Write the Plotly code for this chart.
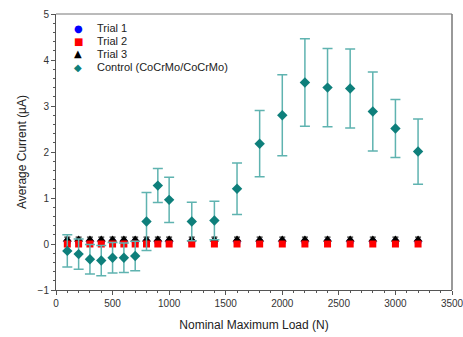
import plotly.graph_objects as go

loads = [100, 200, 300, 400, 500, 600, 700, 800, 900, 1000,
         1200, 1400, 1600, 1800, 2000, 2200, 2400, 2600, 2800, 3000, 3200]

trial1 = [0.05] * 21
trial2 = [0.0] * 21
trial3 = [0.1] * 21
trial3_err = [0.05] * 21

control = [-0.15, -0.22, -0.33, -0.36, -0.30, -0.30, -0.26, 0.49, 1.27, 0.96,
           0.49, 0.51, 1.20, 2.18, 2.80, 3.51, 3.40, 3.38, 2.88, 2.51, 2.01]
control_err = [0.35, 0.33, 0.32, 0.33, 0.33, 0.32, 0.32, 0.63, 0.37, 0.49,
               0.42, 0.42, 0.56, 0.72, 0.88, 0.95, 0.85, 0.86, 0.86, 0.63, 0.71]

series_names = ["Trial 1", "Trial 2", "Trial 3", "Control (CoCrMo/CoCrMo)"]
series_colors = ["#0000ff", "#ff0000", "#000000", "#0e7f7b"]
legend_glyphs = ["●", "■", "▲", "◆"]

fig = go.Figure()
fig.add_trace(go.Scatter(x=loads, y=trial1, mode="markers", name=series_names[0],
                         marker=dict(symbol="circle", color=series_colors[0], size=7)))
fig.add_trace(go.Scatter(x=loads, y=trial3, mode="markers", name=series_names[2],
                         marker=dict(symbol="triangle-up", color=series_colors[2], size=8),
                         error_y=dict(type="data", array=trial3_err, color="#000000",
                                      thickness=1, width=3)))
fig.add_trace(go.Scatter(x=loads, y=trial2, mode="markers", name=series_names[1],
                         marker=dict(symbol="square", color=series_colors[1], size=7)))
fig.add_trace(go.Scatter(x=loads, y=control, mode="markers", name=series_names[3],
                         marker=dict(symbol="diamond", color=series_colors[3], size=8),
                         error_y=dict(type="data", array=control_err, color="#5fb3b0",
                                      thickness=1.5, width=5)))

axis_common = dict(showline=True, linecolor="#555555", linewidth=1, mirror=False,
                   ticks="outside", ticklen=4, tickcolor="#555555",
                   showgrid=False, zeroline=False, ticklabeloverflow="allow",
                   automargin=False,
                   tickfont=dict(family="Liberation Sans, Arial", size=10, color="#333333"))

L, R, T, B = 56, 11, 14, 47
W, H = 463, 337
pw, ph = W - L - R, H - T - B

fig.update_layout(
    width=W, height=H,
    margin=dict(l=L, r=R, t=T, b=B),
    plot_bgcolor="white", paper_bgcolor="white",
    font=dict(family="Liberation Sans, Arial", color="#222222"),
    showlegend=False,
    xaxis=dict(range=[0, 3500], tickvals=[0, 500, 1000, 1500, 2000, 2500, 3000, 3500],
               title=dict(text="Nominal Maximum Load (N)", font=dict(size=12), standoff=12),
               minor=dict(dtick=100, ticks="outside", ticklen=2, tickcolor="#555555"),
               **axis_common),
    yaxis=dict(range=[-1, 5], tickvals=[-1, 0, 1, 2, 3, 4, 5],
               title=dict(text="Average Current (µA)", font=dict(size=12), standoff=8),
               minor=dict(dtick=0.2, ticks="outside", ticklen=2, tickcolor="#555555"),
               **axis_common),
)

# manual compact legend (rows ~13 px apart as in the reference)
row_px = [28, 41, 54, 67]
for name, col, glyph, py in zip(series_names, series_colors, legend_glyphs, row_px):
    yp = (H - B - py) / ph
    fig.add_annotation(xref="paper", yref="paper", x=(78 - L) / pw, y=yp,
                       text=glyph, showarrow=False, xanchor="center", yanchor="middle",
                       font=dict(family="DejaVu Sans", size=10, color=col))
    fig.add_annotation(xref="paper", yref="paper", x=(95 - L) / pw, y=yp,
                       text=name, showarrow=False, xanchor="left", yanchor="middle",
                       font=dict(family="Liberation Sans, Arial", size=11, color="#222222"))

# top and right frame lines
fig.add_shape(type="line", xref="paper", yref="paper", x0=0, x1=1, y0=1, y1=1,
              line=dict(color="#777777", width=1))
fig.add_shape(type="line", xref="paper", yref="paper", x0=1, x1=1, y0=0, y1=1,
              line=dict(color="#777777", width=1.5))

fig.write_html("out.html", config={"displayModeBar": False},
               post_script="document.body.style.margin='0';")
